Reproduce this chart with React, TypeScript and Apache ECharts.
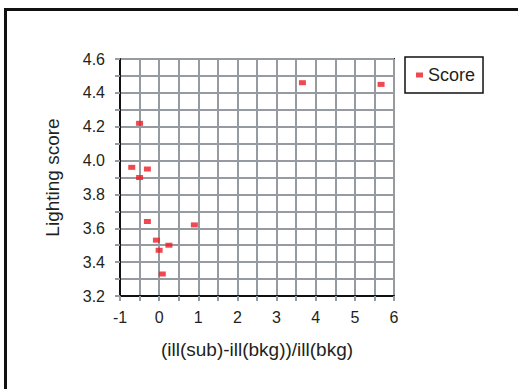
import React, { useEffect, useRef } from "react";
import * as echarts from "echarts";

const xValues = [-0.5, -0.7, -0.3, -0.5, -0.3, 0.9, -0.07, 0.25, 0.0, 0.08, 3.66, 5.67];
const yValues = [4.22, 3.96, 3.95, 3.9, 3.64, 3.62, 3.53, 3.5, 3.47, 3.33, 4.46, 4.45];
const seriesName = "Score";
const xTitle = "(ill(sub)-ill(bkg))/ill(bkg)";
const yTitle = "Lighting score";

const FONT = "Liberation Sans, Arial, sans-serif";
const TEXT = "#231f20";
const GRID = "#959ba0";

export default function App() {
  const ref = useRef<HTMLDivElement>(null);
  useEffect(() => {
    if (!ref.current) return;
    const chart = echarts.init(ref.current, undefined, { renderer: "svg" });
    const data = xValues.map((x, i) => [x, yValues[i]]);
    const gridLine = { color: GRID, width: 2 };
    chart.setOption({
      animation: false,
      backgroundColor: "#fff",
      textStyle: { fontFamily: FONT },
      grid: {
        left: 120,
        top: 59,
        right: 124,
        bottom: 93,
        show: true,
        borderColor: "#111",
        borderWidth: 2,
        backgroundColor: "transparent",
      },
      legend: {
        left: 405,
        top: 57,
        orient: "vertical",
        padding: [9, 8, 9, 11],
        borderColor: "#111",
        borderWidth: 1.5,
        itemWidth: 7,
        itemHeight: 5,
        itemGap: 5,
        icon: "rect",
        textStyle: { fontSize: 18, color: TEXT, fontFamily: FONT },
        data: [seriesName],
      },
      xAxis: {
        type: "value",
        min: -1,
        max: 6,
        interval: 1,
        name: xTitle,
        nameLocation: "middle",
        nameGap: 44,
        nameTextStyle: { fontSize: 19, color: TEXT, fontFamily: FONT },
        axisLine: { show: true, onZero: false, lineStyle: { color: "#111", width: 2 } },
        axisTick: { show: true, length: 5, lineStyle: gridLine },
        minorTick: { show: true, splitNumber: 2, length: 5, lineStyle: gridLine },
        splitLine: { show: true, lineStyle: gridLine },
        minorSplitLine: { show: true, lineStyle: gridLine },
        axisLabel: { fontSize: 16, color: TEXT, margin: 13, fontFamily: FONT },
      },
      yAxis: {
        type: "value",
        min: 3.2,
        max: 4.6,
        interval: 0.2,
        name: yTitle,
        nameLocation: "middle",
        nameGap: 58,
        nameTextStyle: { fontSize: 19, color: TEXT, fontFamily: FONT },
        axisLine: { show: true, onZero: false, lineStyle: { color: "#111", width: 2 } },
        axisTick: { show: true, length: 5, lineStyle: gridLine },
        minorTick: { show: true, splitNumber: 2, length: 5, lineStyle: gridLine },
        splitLine: { show: true, lineStyle: gridLine },
        minorSplitLine: { show: true, lineStyle: gridLine },
        axisLabel: {
          fontSize: 16,
          color: TEXT,
          margin: 15,
          fontFamily: FONT,
          formatter: (v: number) => v.toFixed(1),
        },
      },
      series: [
        {
          name: seriesName,
          type: "scatter",
          data,
          symbol: "rect",
          symbolSize: [7, 5],
          itemStyle: { color: "#ed1c24" },
        },
      ],
      graphic: [
        { type: "line", shape: { x1: 5.5, y1: 8, x2: 5.5, y2: 389 }, style: { stroke: "#111", lineWidth: 3 } },
        { type: "line", shape: { x1: 4, y1: 9.5, x2: 518, y2: 9.5 }, style: { stroke: "#111", lineWidth: 3 } },
      ],
    });
    return () => chart.dispose();
  }, []);
  return (
    <div
      ref={ref}
      style={{ position: "absolute", left: 0, top: 0, width: 518, height: 389 }}
    />
  );
}
